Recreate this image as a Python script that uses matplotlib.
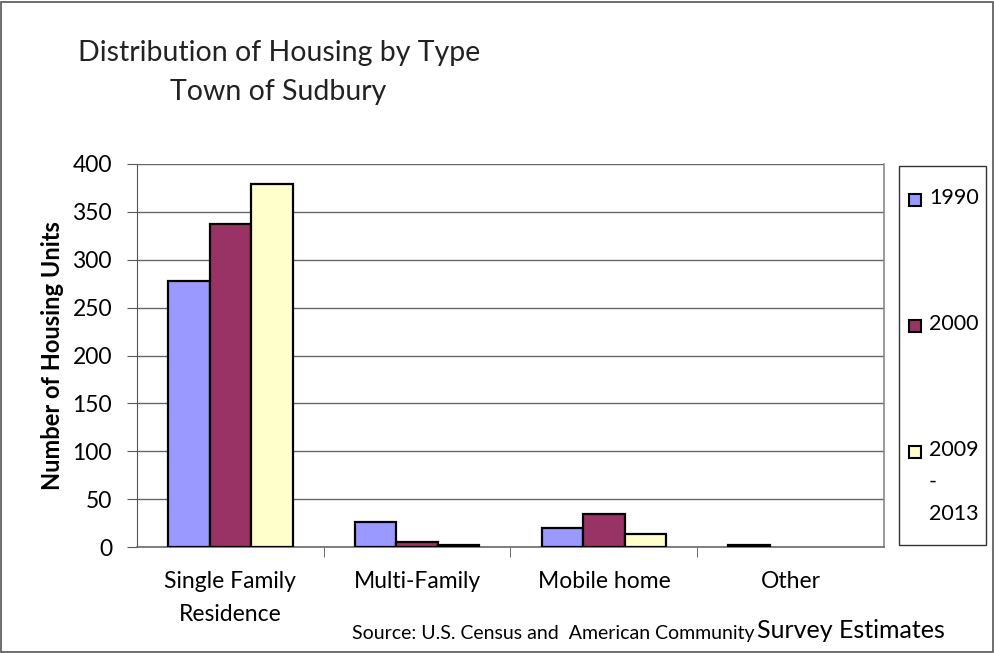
import numpy as np
import matplotlib
matplotlib.use("Agg")
import matplotlib.pyplot as plt
from matplotlib.patches import Rectangle

plt.rcParams['font.family'] = ['Lato', 'DejaVu Sans']

categories = ["Single Family\nResidence", "Multi-Family", "Mobile home", "Other"]
series = ["1990", "2000", "2009\n-\n2013"]
v1990 = [278, 26, 20, 2]
v2000 = [337, 5, 34, 0]
v2013 = [379, 2, 14, 0]
colors = ["#9999FF", "#993366", "#FFFFCC"]

W, H = 995, 653
fig = plt.figure(figsize=(W / 100, H / 100), dpi=100)
fig.patches.append(Rectangle((1 / W, 1 / H), 1 - 3 / W, 1 - 3 / H, transform=fig.transFigure,
                             fill=False, edgecolor="#555555", linewidth=1.2))

ax = fig.add_axes([137 / W, 1 - 547 / H, 747 / W, 383 / H])
x = np.arange(len(categories))
w = 0.2226
for i, (vals, c) in enumerate(zip([v1990, v2000, v2013], colors)):
    vals = np.array(vals, dtype=float)
    keep = vals > 0  # empty categories have no bar at all
    ax.bar((x + (i - 1) * w)[keep], vals[keep], w, color=c, edgecolor="black",
           linewidth=1.6, label=series[i], zorder=3)

ax.set_xlim(-0.5, len(categories) - 0.5)
ax.set_ylim(0, 400)
ax.set_yticks(np.arange(0, 401, 50))
ax.yaxis.grid(True, color="#666666", linewidth=1.0, zorder=0)
ax.set_xticks(x)
ax.set_xticklabels(categories, fontsize=16.5, linespacing=1.75)
ax.set_xticks(np.arange(0.5, len(categories) - 0.5, 1), minor=True)
ax.tick_params(axis="x", which="major", length=0, pad=17)
ax.tick_params(axis="x", which="minor", length=7, color="#555555")
ax.tick_params(axis="y", labelsize=16.5, length=7, color="#555555", pad=11)
ax.spines["top"].set_visible(False)
ax.spines["right"].set_color("#8a8a8a")
ax.spines["right"].set_linewidth(1.2)
ax.spines["left"].set_color("#555555")
ax.spines["bottom"].set_color("#6a6a6a")
ax.spines["bottom"].set_linewidth(1.2)
ax.set_ylabel("Number of Housing Units", fontsize=17, fontweight="bold", labelpad=6)

# legend box drawn by hand so the layout matches the reference
fig.patches.append(Rectangle((899 / W, 1 - 545 / H), 87 / W, 379 / H, transform=fig.transFigure,
                             fill=False, edgecolor="#333333", linewidth=1.0))
leg_y = [200, 326, 452]
for lab, c, yy in zip(series, colors, leg_y):
    fig.patches.append(Rectangle((909 / W, 1 - (yy + 6) / H), 12 / W, 12 / H,
                                 transform=fig.transFigure, facecolor=c,
                                 edgecolor="black", linewidth=1.5))
    # first line of the label is centred on the marker
    fig.text(929 / W, 1 - (yy - 12) / H, lab, fontsize=15.5, va="top", ha="left",
             linespacing=1.75)

fig.text(78 / W, 1 - 53 / H, "Distribution of Housing by Type", fontsize=20.5,
         va="center", ha="left", color="#222222")
fig.text(278 / W, 1 - 92 / H, "Town of Sudbury", fontsize=20.5,
         va="center", ha="center", color="#222222")
fig.text(352 / W, 1 - 633 / H, "Source: U.S. Census and  American Community",
         fontsize=14, va="center", ha="left")
fig.text(945 / W, 1 - 631 / H, "Survey Estimates", fontsize=18,
         va="center", ha="right")

fig.savefig("out.png", dpi=100)
